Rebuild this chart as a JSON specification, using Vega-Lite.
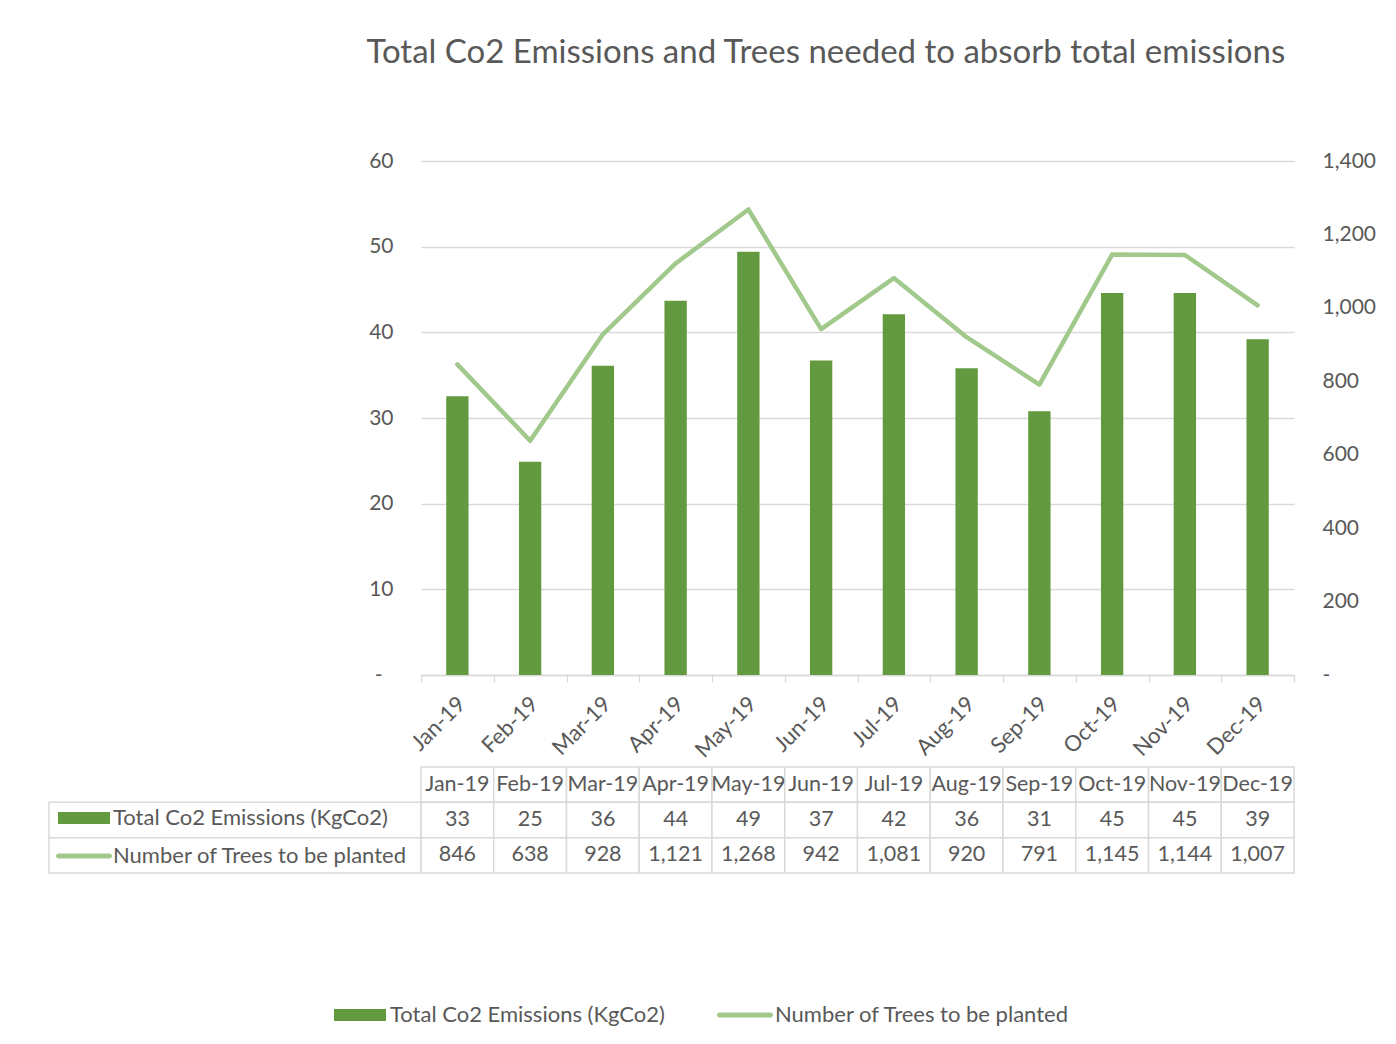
{
  "$schema": "https://vega.github.io/schema/vega-lite/v6.json",
  "background": "white",
  "padding": {"left": 48, "top": 37, "right": 0, "bottom": 0},
  "title": {
    "text": "Total Co2 Emissions and Trees needed to absorb total emissions",
    "font": "Lato",
    "fontSize": 33,
    "fontWeight": "normal",
    "color": "#595959",
    "anchor": "middle",
    "baseline": "alphabetic",
    "dx": 114,
    "offset": 54
  },
  "datasets": {
    "monthly": [
      {"month": "Jan-19", "emissions": 32.55, "trees": 846},
      {"month": "Feb-19", "emissions": 24.9, "trees": 638},
      {"month": "Mar-19", "emissions": 36.1, "trees": 928},
      {"month": "Apr-19", "emissions": 43.7, "trees": 1121},
      {"month": "May-19", "emissions": 49.4, "trees": 1268},
      {"month": "Jun-19", "emissions": 36.7, "trees": 942},
      {"month": "Jul-19", "emissions": 42.1, "trees": 1081},
      {"month": "Aug-19", "emissions": 35.8, "trees": 920},
      {"month": "Sep-19", "emissions": 30.8, "trees": 791},
      {"month": "Oct-19", "emissions": 44.6, "trees": 1145},
      {"month": "Nov-19", "emissions": 44.6, "trees": 1144},
      {"month": "Dec-19", "emissions": 39.2, "trees": 1007}
    ],
    "tableRows": [
      {"row": "emissions", "series": "Total Co2 Emissions (KgCo2)"},
      {"row": "trees", "series": "Number of Trees to be planted"}
    ]
  },
  "columns": 2,
  "spacing": {"row": 92, "column": 0},
  "bounds": "flush",
  "resolve": {"legend": {"color": "independent"}},
  "concat": [
    {
      "width": 372,
      "height": 514,
      "data": {"values": []},
      "mark": "point"
    },
    {
      "width": 873,
      "height": 514,
      "data": {"name": "monthly"},
      "encoding": {
        "x": {
          "field": "month",
          "type": "nominal",
          "scale": {
            "domain": ["Jan-19", "Feb-19", "Mar-19", "Apr-19", "May-19", "Jun-19", "Jul-19", "Aug-19", "Sep-19", "Oct-19", "Nov-19", "Dec-19"],
            "paddingInner": 0,
            "paddingOuter": 0
          },
          "axis": {
            "title": null,
            "labelAngle": -45,
            "labelAlign": "right",
            "labelBaseline": "middle",
            "labelOffset": 4,
            "tickBand": "extent",
            "domainColor": "#d9d9d9",
            "domainWidth": 1.3,
            "tickColor": "#d9d9d9",
            "tickWidth": 1.3,
            "tickSize": 7,
            "labelPadding": 18,
            "labelFont": "Lato",
            "labelFontSize": 22,
            "labelColor": "#595959",
            "grid": false
          }
        }
      },
      "layer": [
        {
          "mark": {"type": "bar", "width": {"band": 0.307}},
          "encoding": {
            "y": {
              "field": "emissions",
              "type": "quantitative",
              "scale": {"domain": [0, 60], "nice": false},
              "axis": {
                "title": null,
                "values": [0, 10, 20, 30, 40, 50, 60],
                "labelExpr": "datum.value === 0 ? '-' : format(datum.value, ',')",
                "grid": true,
                "gridColor": "#d9d9d9",
                "gridWidth": 1.3,
                "domain": false,
                "ticks": false,
                "labelPadding": {"condition": {"test": "datum.value === 0", "value": 39}, "value": 28},
                "labelFont": "Lato",
                "labelFontSize": 21,
                "labelColor": "#595959"
              }
            },
            "color": {
              "datum": "Total Co2 Emissions (KgCo2)",
              "type": "nominal",
              "scale": {
                "domain": ["Total Co2 Emissions (KgCo2)", "Number of Trees to be planted"],
                "range": ["#639a3f", "#a2c98c"]
              },
              "legend": {
                "title": null,
                "orient": "none",
                "direction": "horizontal",
                "legendX": -88,
                "legendY": 827,
                "padding": 0,
                "columnPadding": 52,
                "symbolSize": 2916,
                "symbolOffset": 0,
                "symbolStrokeWidth": 0,
                "symbolOpacity": 1,
                "labelOffset": 3,
                "labelFont": "Lato",
                "labelFontSize": 22,
                "labelColor": "#595959",
                "labelLimit": 600,
                "encode": {
                  "symbols": {
                    "update": {
                      "shape": {"signal": "datum.value === 'Total Co2 Emissions (KgCo2)' ? 'M-0.963,-0.222H0.963V0.222H-0.963Z' : 'M-0.944,-0.093H0.944A0.093,0.093 0 0 1 0.944,0.093H-0.944A0.093,0.093 0 0 1 -0.944,-0.093Z'"},
                      "fill": {"signal": "datum.value === 'Total Co2 Emissions (KgCo2)' ? '#639a3f' : '#a2c98c'"},
                      "size": {"value": 2916},
                      "strokeWidth": {"value": 0},
                      "opacity": {"value": 1}
                    }
                  }
                }
              }
            }
          }
        },
        {
          "mark": {"type": "line", "strokeWidth": 4.5, "strokeCap": "round", "strokeJoin": "round"},
          "encoding": {
            "y": {
              "field": "trees",
              "type": "quantitative",
              "scale": {"domain": [0, 1400], "nice": false},
              "axis": {
                "orient": "right",
                "title": null,
                "values": [0, 200, 400, 600, 800, 1000, 1200, 1400],
                "labelExpr": "datum.value === 0 ? '-' : format(datum.value, ',')",
                "grid": false,
                "domain": false,
                "ticks": false,
                "labelPadding": 28,
                "labelFont": "Lato",
                "labelFontSize": 21,
                "labelColor": "#595959"
              }
            },
            "color": {
              "datum": "Number of Trees to be planted",
              "type": "nominal"
            }
          }
        }
      ],
      "resolve": {"scale": {"y": "independent"}}
    },
    {
      "width": 372,
      "height": 106,
      "data": {"name": "tableRows"},
      "encoding": {
        "y": {
          "field": "row",
          "type": "nominal",
          "scale": {"domain": ["month", "emissions", "trees"], "paddingInner": 0, "paddingOuter": 0},
          "axis": null
        }
      },
      "layer": [
        {
          "mark": {"type": "rect", "fill": "white", "stroke": "#d9d9d9", "strokeWidth": 1.5}
        },
        {
          "mark": {"type": "point", "size": 0, "filled": true, "strokeWidth": 0},
          "encoding": {
            "color": {
              "field": "series",
              "type": "nominal",
              "legend": {
                "title": null,
                "orient": "none",
                "direction": "vertical",
                "legendX": 8,
                "legendY": 24,
                "padding": 0,
                "rowPadding": -16.9,
                "symbolSize": 2916,
                "symbolOffset": 0,
                "symbolStrokeWidth": 0,
                "symbolOpacity": 1,
                "labelOffset": 2,
                "labelFont": "Lato",
                "labelFontSize": 22,
                "labelColor": "#595959",
                "labelLimit": 600,
                "encode": {
                  "symbols": {
                    "update": {
                      "shape": {"signal": "datum.value === 'Total Co2 Emissions (KgCo2)' ? 'M-0.963,-0.222H0.963V0.222H-0.963Z' : 'M-0.944,-0.093H0.944A0.093,0.093 0 0 1 0.944,0.093H-0.944A0.093,0.093 0 0 1 -0.944,-0.093Z'"},
                      "fill": {"signal": "datum.value === 'Total Co2 Emissions (KgCo2)' ? '#639a3f' : '#a2c98c'"},
                      "size": {"value": 2916},
                      "strokeWidth": {"value": 0},
                      "opacity": {"value": 1},
                      "fillOpacity": {"value": 1}
                    }
                  }
                }
              }
            }
          }
        }
      ]
    },
    {
      "width": 873,
      "height": 106,
      "data": {"name": "monthly"},
      "encoding": {
        "x": {
          "field": "month",
          "type": "nominal",
          "scale": {
            "domain": ["Jan-19", "Feb-19", "Mar-19", "Apr-19", "May-19", "Jun-19", "Jul-19", "Aug-19", "Sep-19", "Oct-19", "Nov-19", "Dec-19"],
            "paddingInner": 0,
            "paddingOuter": 0
          },
          "axis": null
        }
      },
      "layer": [
        {
          "mark": {"type": "rect", "fill": "white", "stroke": "#d9d9d9", "strokeWidth": 1.5},
          "encoding": {
            "y": {
              "datum": "month",
              "type": "nominal",
              "scale": {"domain": ["month", "emissions", "trees"], "paddingInner": 0, "paddingOuter": 0},
              "axis": null
            }
          }
        },
        {
          "mark": {"type": "text", "font": "Lato", "fontSize": 21.5, "color": "#595959", "align": "center", "baseline": "middle"},
          "encoding": {
            "y": {"datum": "month", "type": "nominal"},
            "text": {"field": "month", "type": "nominal"}
          }
        },
        {
          "transform": [{"fold": ["emissions", "trees"], "as": ["row", "value"]}],
          "layer": [
            {
              "mark": {"type": "rect", "fill": "white", "stroke": "#d9d9d9", "strokeWidth": 1.5},
              "encoding": {
                "y": {"field": "row", "type": "nominal"}
              }
            },
            {
              "mark": {"type": "text", "font": "Lato", "fontSize": 21.5, "color": "#595959", "align": "center", "baseline": "middle"},
              "encoding": {
                "y": {"field": "row", "type": "nominal"},
                "text": {"field": "value", "type": "quantitative", "format": ",.0f"}
              }
            }
          ]
        }
      ]
    }
  ],
  "config": {
    "view": {"stroke": null},
    "font": "Lato"
  }
}
